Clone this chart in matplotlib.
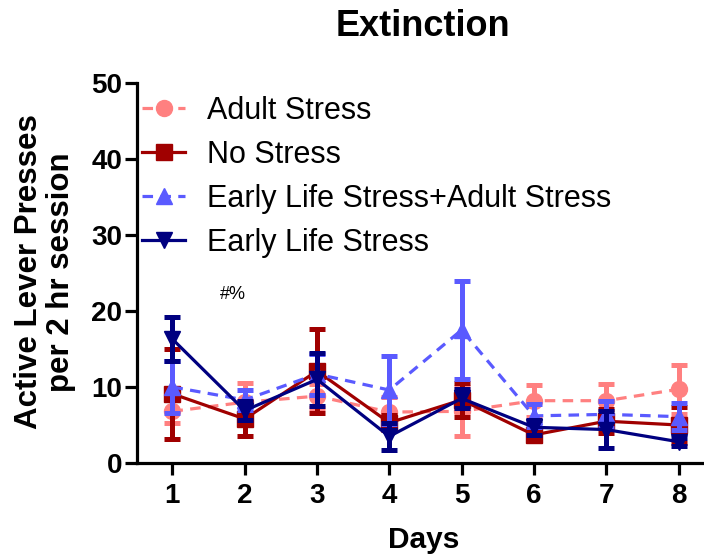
import matplotlib
matplotlib.use('Agg')
import matplotlib.pyplot as plt
from matplotlib.lines import Line2D

plt.rcParams['font.family'] = ['Liberation Sans', 'DejaVu Sans']

days = [1, 2, 3, 4, 5, 6, 7, 8]

# group means and SEMs
adult_stress = [6.8, 8.0, 8.8, 6.7, 6.8, 8.2, 8.2, 9.7]
adult_stress_err = [1.5, 2.5, 1.6, 2.0, 3.2, 2.1, 2.2, 3.2]
no_stress = [9.1, 5.8, 12.1, 5.3, 8.3, 3.7, 5.5, 5.0]
no_stress_err = [5.9, 2.2, 5.5, 1.0, 2.2, 0.8, 1.6, 2.4]
els_as = [10.0, 8.3, 11.7, 9.6, 17.5, 6.2, 6.4, 6.1]
els_as_err = [3.4, 1.3, 2.7, 4.5, 6.5, 1.5, 1.8, 1.8]
els = [16.3, 6.9, 11.0, 3.5, 8.5, 4.7, 4.4, 2.8]
els_err = [2.9, 1.3, 3.5, 1.8, 1.2, 1.0, 2.4, 0.5]

groups = [
    ('Adult Stress', adult_stress, adult_stress_err, '#ff8080', 'o', '--'),
    ('No Stress', no_stress, no_stress_err, '#a00000', 's', '-'),
    ('Early Life Stress+Adult Stress', els_as, els_as_err, '#5a5aff', '^', '--'),
    ('Early Life Stress', els, els_err, '#000080', 'v', '-'),
]

fig = plt.figure(figsize=(7.04, 5.59), dpi=100)
ax = fig.add_axes([137 / 704, 1 - 463 / 559, 1 - 137 / 704 + 0.01, 380 / 559])

handles = []
for i, (name, vals, errs, col, mk, ls) in enumerate(groups):
    line, caps, bars = ax.errorbar(days, vals, yerr=errs, color=col, marker=mk,
                                   markersize=11.5, linestyle=ls, linewidth=2.3,
                                   elinewidth=3.6, capsize=6, capthick=3.6,
                                   zorder=3 + i, clip_on=False)
    h = Line2D([], [], color=col, marker=mk, markersize=11.5, linestyle=ls,
               linewidth=2.3)
    if ls == '--':
        line.set_dashes((3.3, 2.3))
        h.set_dashes((3.3, 2.3))
    handles.append((h, name))

ax.set_xlim(0.51, 8.45)
ax.set_ylim(0, 50)
ax.set_xticks(days)
ax.set_yticks([0, 10, 20, 30, 40, 50])

for side in ['top', 'right']:
    ax.spines[side].set_visible(False)
for side in ['left', 'bottom']:
    ax.spines[side].set_linewidth(2.3)
ax.tick_params(axis='both', direction='out', length=8.5, width=2.3, labelsize=20)
ax.tick_params(axis='x', pad=6)
ax.tick_params(axis='y', pad=2)
for lbl in ax.get_xticklabels() + ax.get_yticklabels():
    lbl.set_fontweight('bold')

ax.text(1.84, 22.2, '#%', fontsize=13, ha='center', va='center')

ax.legend([h for h, _ in handles], [n for _, n in handles], loc='upper left',
          bbox_to_anchor=(0.009, 0.966), frameon=False, fontsize=22,
          handlelength=1.4, handletextpad=0.72, labelspacing=0.46,
          borderaxespad=0.0, borderpad=0.0)

fig.text(423 / 704, 1 - 26 / 559, 'Extinction', fontsize=26, fontweight='bold',
         ha='center', va='center')
fig.text(424 / 704, 1 - 548 / 559, 'Days', fontsize=21.5, fontweight='bold',
         ha='center', va='baseline')
fig.text(45 / 704, 1 - 272 / 559, 'Active Lever Presses\nper 2 hr session',
         fontsize=22.5, fontweight='bold', rotation=90, ha='center', va='center',
         multialignment='center', linespacing=1.1)

fig.savefig('out.png', dpi=100)
